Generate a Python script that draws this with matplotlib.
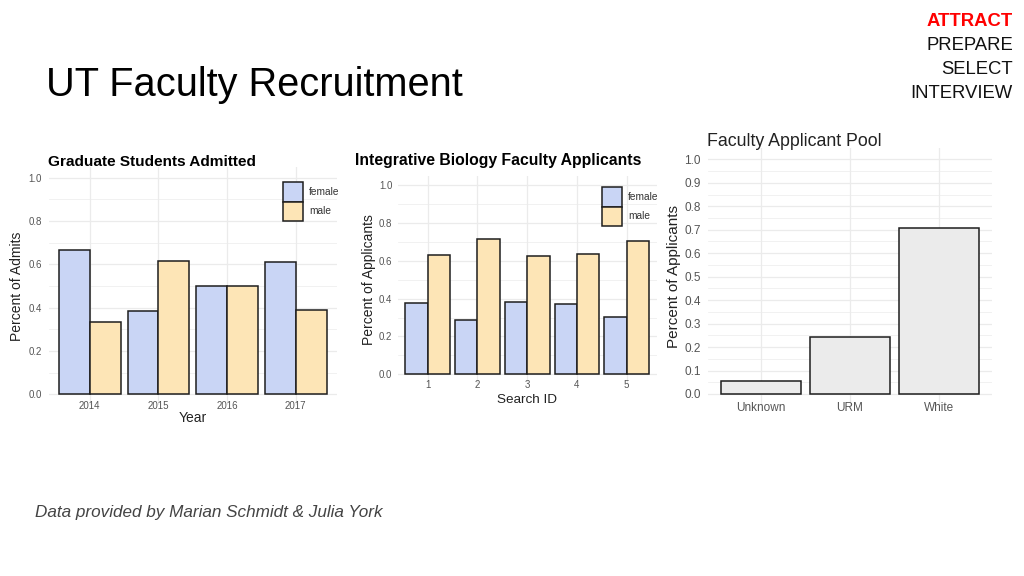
import numpy as np
import matplotlib
matplotlib.use("Agg")
import matplotlib.pyplot as plt
from matplotlib.patches import Patch

plt.rcParams['font.family'] = ['Liberation Sans', 'DejaVu Sans']

# Graduate students admitted
years = ["2014", "2015", "2016", "2017"]
admit_female = [0.667, 0.385, 0.5, 0.611]
admit_male = [0.333, 0.615, 0.5, 0.389]

# Integrative biology faculty applicants
search_ids = ["1", "2", "3", "4", "5"]
app_female = [0.379, 0.286, 0.383, 0.374, 0.305]
app_male = [0.628, 0.716, 0.624, 0.633, 0.702]

# Faculty applicant pool
pool_groups = ["Unknown", "URM", "White"]
pool_values = [0.055, 0.241, 0.709]

FEMALE = "#c9d5f5"
MALE = "#fde5b6"
EDGE = "#1e1e1e"
GRID = "#ebebeb"
TICK = "#555555"

W, H = 1024, 576
fig = plt.figure(figsize=(W / 100, H / 100), dpi=100)


def px_axes(x0, x1, ytop, ybot):
    return fig.add_axes([x0 / W, 1 - ybot / H, (x1 - x0) / W, (ybot - ytop) / H])


def style(ax, ncat, major, minor, tsize, xpad, ypad):
    ax.set_xlim(0.4, ncat + 0.6)
    ax.set_ylim(-0.05, 1.05)
    ax.set_yticks(major)
    ax.set_yticks(minor, minor=True)
    ax.set_xticks(np.arange(1, ncat + 1))
    ax.grid(True, which="major", color=GRID, lw=0.9, zorder=0)
    ax.grid(True, which="minor", axis="y", color=GRID, lw=0.5, zorder=0)
    ax.set_axisbelow(True)
    for s in ax.spines.values():
        s.set_visible(False)
    ax.tick_params(which="both", length=0, labelsize=tsize, labelcolor=TICK)
    ax.tick_params(axis="x", pad=xpad)
    ax.tick_params(axis="y", pad=ypad)


def dodge(ax, cats, female, male):
    x = np.arange(1, len(cats) + 1)
    w = 0.45
    ax.bar(x - w / 2, female, w, color=FEMALE, edgecolor=EDGE, lw=1.1, zorder=3)
    ax.bar(x + w / 2, male, w, color=MALE, edgecolor=EDGE, lw=1.1, zorder=3)
    ax.set_xticklabels(cats)
    ax.set_yticklabels([f"{v:.1f}" for v in ax.get_yticks()])


def legend(ax, x, y, size):
    handles = [Patch(facecolor=FEMALE, edgecolor=EDGE, lw=1.1, label="female"),
               Patch(facecolor=MALE, edgecolor=EDGE, lw=1.1, label="male")]
    ax.legend(handles=handles, loc="upper left", bbox_to_anchor=(x / W, 1 - y / H),
              bbox_transform=fig.transFigure, frameon=False, fontsize=size,
              borderpad=0, borderaxespad=0, labelspacing=0.0, handlelength=1.95,
              handleheight=2.6, handletextpad=0.6, labelcolor="#333333")


major5 = [0, 0.2, 0.4, 0.6, 0.8, 1.0]
minor5 = [0.1, 0.3, 0.5, 0.7, 0.9]

# panel 1
ax1 = px_axes(48.6, 337, 167, 405)
style(ax1, 4, major5, minor5, 7, -3, 5)
dodge(ax1, years, admit_female, admit_male)
ax1.set_xlabel("Year", fontsize=10, color="#222222", labelpad=0)
ax1.set_ylabel("Percent of Admits", fontsize=10, color="#222222", labelpad=3)
fig.text(48 / W, 1 - 162 / H, "Graduate Students Admitted", fontsize=11.1,
         fontweight="bold", va="center", ha="left")
legend(ax1, 283, 182, 7.3)

# panel 2
ax2 = px_axes(397.9, 656.5, 175.5, 383.8)
style(ax2, 5, major5, minor5, 7, -3, 4)
dodge(ax2, search_ids, app_female, app_male)
ax2.set_xlabel("Search ID", fontsize=9.7, color="#222222", labelpad=3)
ax2.set_ylabel("Percent of Applicants", fontsize=10, color="#222222", labelpad=2)
fig.text(355 / W, 1 - 160 / H, "Integrative Biology Faculty Applicants", fontsize=11.3,
         fontweight="bold", va="center", ha="left")
legend(ax2, 602, 187, 7.3)

# panel 3
ax3 = px_axes(707.6, 992.4, 147.6, 405.7)
style(ax3, 3, np.arange(0, 1.01, 0.1), np.arange(0.05, 1.0, 0.1), 8.5, -3, 5)
ax3.bar(np.arange(1, 4), pool_values, 0.9, color="#ebebeb", edgecolor=EDGE, lw=1.1, zorder=3)
ax3.set_xticklabels(pool_groups)
ax3.set_yticklabels([f"{v:.1f}" for v in ax3.get_yticks()])
ax3.set_ylabel("Percent of Applicants", fontsize=11, color="#222222", labelpad=2)
fig.text(707 / W, 1 - 141 / H, "Faculty Applicant Pool", fontsize=12.8,
         va="center", ha="left", color="#222222")

# slide text
fig.text(46 / W, 1 - 85 / H, "UT Faculty Recruitment", fontsize=28.6, va="center", ha="left")
steps = ["ATTRACT", "PREPARE", "SELECT", "INTERVIEW"]
for i, s in enumerate(steps):
    fig.text(1013 / W, 1 - (21 + 24.3 * i) / H, s, fontsize=13.3, ha="right", va="center",
             color="#ff0000" if i == 0 else "#111111",
             fontweight="bold" if i == 0 else "normal")
fig.text(35 / W, 1 - 513 / H, "Data provided by Marian Schmidt & Julia York", fontsize=12.3,
         style="italic", color="#444444", va="center", ha="left")

fig.savefig("out.png", dpi=100)
